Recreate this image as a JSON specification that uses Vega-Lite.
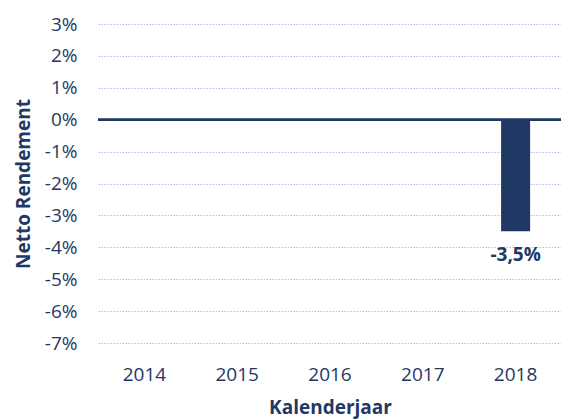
{
  "$schema": "https://vega.github.io/schema/vega-lite/v6.json",
  "width": 464,
  "height": 319,
  "autosize": "none",
  "padding": {"left": 98, "top": 24, "right": 0, "bottom": 76},
  "config": {
    "view": {"stroke": null},
    "font": "Open Sans",
    "locale": {
      "number": {"decimal": ",", "thousands": ".", "grouping": [3], "currency": ["€", ""], "minus": "-"}
    }
  },
  "data": {
    "values": [
      {"year": "2014", "value": null},
      {"year": "2015", "value": null},
      {"year": "2016", "value": null},
      {"year": "2017", "value": null},
      {"year": "2018", "value": -0.035}
    ]
  },
  "layer": [
    {
      "mark": {"type": "bar", "color": "#203864"},
      "encoding": {
        "x": {
          "field": "year",
          "type": "ordinal",
          "scale": {"domain": ["2014", "2015", "2016", "2017", "2018"], "paddingInner": 0.6875, "paddingOuter": 0.34375},
          "axis": {
            "title": "Kalenderjaar",
            "titleFontSize": 19,
            "titleFontWeight": "bold",
            "titleColor": "#1F3864",
            "titleBaseline": "alphabetic",
            "titleY": 70,
            "labelAngle": 0,
            "labelFontSize": 19,
            "labelColor": "#1F3864",
            "labelBaseline": "alphabetic",
            "labelPadding": 37,
            "labelOverlap": false,
            "domain": false,
            "ticks": false,
            "grid": false
          }
        },
        "y": {
          "field": "value",
          "type": "quantitative",
          "scale": {"domain": [-0.07, 0.03], "nice": false, "zero": false},
          "axis": {
            "values": [-0.07, -0.06, -0.05, -0.04, -0.03, -0.02, -0.01, 0, 0.01, 0.02, 0.03],
            "tickCount": 11,
            "format": ".0%",
            "title": "Netto Rendement",
            "titleFontSize": 19,
            "titleFontWeight": "bold",
            "titleColor": "#1F3864",
            "titleBaseline": "alphabetic",
            "titleX": -69,
            "labelFontSize": 19,
            "labelColor": "#1F3864",
            "labelPadding": 21,
            "labelOverlap": false,
            "labelFlush": false,
            "domain": false,
            "ticks": false,
            "grid": true,
            "gridColor": "#A9C0E6",
            "gridDash": [1.5, 1.5],
            "gridWidth": 1
          }
        }
      }
    },
    {
      "mark": {"type": "rule", "color": "#1F3864", "strokeWidth": 2},
      "encoding": {"y": {"datum": 0}}
    },
    {
      "mark": {"type": "text", "color": "#1F3864", "fontSize": 19, "fontWeight": "bold", "baseline": "alphabetic", "dy": 30},
      "encoding": {
        "x": {"field": "year", "type": "ordinal"},
        "y": {"field": "value", "type": "quantitative"},
        "text": {"field": "value", "type": "quantitative", "format": ".1%"}
      }
    }
  ]
}
